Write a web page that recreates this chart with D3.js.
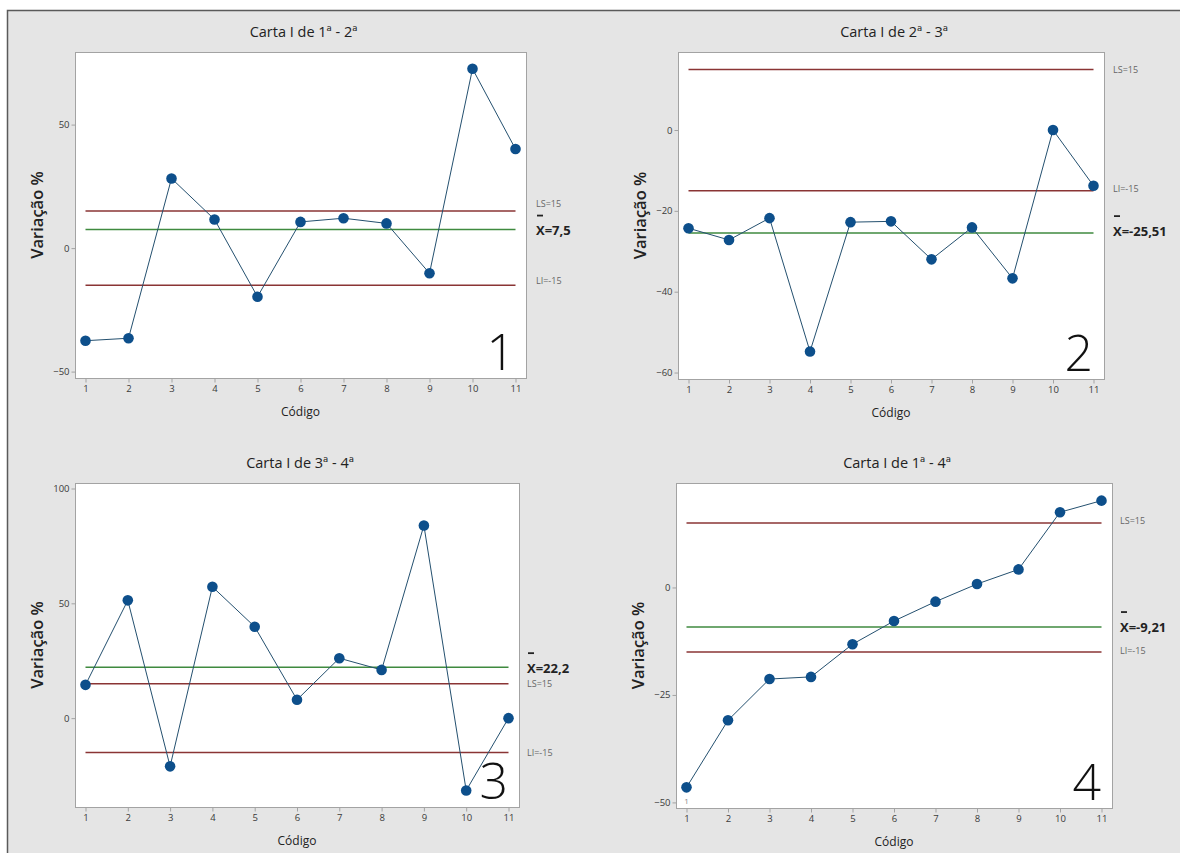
<!DOCTYPE html>
<html>
<head>
<meta charset="utf-8">
<script src="https://cdn.jsdelivr.net/npm/d3@7"></script>
<style>
  html, body { margin: 0; padding: 0; background: #fff; }
  svg { display: block; font-family: "Open Sans", "Noto Sans", sans-serif; }
</style>
</head>
<body>
<div id="chart"></div>
<script>
  var codes = [1, 2, 3, 4, 5, 6, 7, 8, 9, 10, 11];
  var titles = ["Carta I de 1ª - 2ª", "Carta I de 2ª - 3ª", "Carta I de 3ª - 4ª", "Carta I de 1ª - 4ª"];
  var chart1 = [-37.5, -36.5, 28.2, 11.6, -19.7, 10.6, 12.1, 10.0, -10.2, 72.6, 40.1];
  var chart2 = [-24.3, -27.2, -21.8, -54.8, -22.8, -22.6, -32.0, -24.1, -36.7, 0, -13.8];
  var chart3 = [14.5, 51.3, -21.0, 57.2, 39.8, 8.0, 26.1, 21.0, 83.9, -31.5, 0];
  var chart4 = [-46.5, -30.9, -21.3, -20.8, -13.2, -7.8, -3.3, 0.8, 4.2, 17.5, 20.2];
  var means = [7.5, -25.51, 22.2, -9.21];
  var meanLabels = ["X=7,5", "X=-25,51", "X=22,2", "X=-9,21"];
  var upperLimit = 15, lowerLimit = -15;
  var upperLabel = "LS=15", lowerLabel = "LI=-15";
  var yTicks = [[-50, 0, 50], [-60, -40, -20, 0], [0, 50, 100], [-50, -25, 0]];
  var yDomains = [[-52.6, 79.4], [-61.6, 19.3], [-38.7, 102.4], [-51.3, 24.3]];
  var panelNumbers = ["1", "2", "3", "4"];
  var flagged = [[], [], [], [1]];   // points marked by test 1

  var series = [chart1, chart2, chart3, chart4];

  // layout
  const width = 1180;
  const height = 853;
  var boxes = [
    {x0: 75, x1: 526, y0: 52, y1: 378, lx: 536, lsDy: -7, liDy: -4, mDy: 1},
    {x0: 678, x1: 1104, y0: 52, y1: 379, lx: 1113, lsDy: 0, liDy: -2, mDy: -2},
    {x0: 75, x1: 519, y0: 483, y1: 807, lx: 527, lsDy: 0, liDy: 0, mDy: 1},
    {x0: 676, x1: 1112, y0: 483, y1: 808, lx: 1120, lsDy: -2, liDy: -1, mDy: 0}
  ];

  var colors = {
    bg: "#e5e5e5",
    frame: "#5a5a5a",
    box: "#a3a3a3",
    point: "#0d4f8b",
    line: "#24506f",
    limit: "#8a3434",
    mean: "#3f8a3f",
    text: "#222",
    tick: "#3a3a3a"
  };

  var svg = d3.select("#chart")
    .append("svg")
    .attr("width", width)
    .attr("height", height);

  svg.append("rect")
    .attr("x", 7).attr("y", 10)
    .attr("width", width - 7).attr("height", height - 10)
    .attr("fill", colors.bg);
  svg.append("path")
    .attr("d", "M7.5," + height + "V10.5H" + width)
    .attr("fill", "none")
    .attr("stroke", colors.frame)
    .attr("stroke-width", 1.5);

  function drawPanel(i) {
    var b = boxes[i];
    var values = series[i];
    var g = svg.append("g");

    var x = d3.scaleLinear().domain([1, 11]).range([b.x0 + 10.5, b.x1 - 10.5]);
    var y = d3.scaleLinear().domain(yDomains[i]).range([b.y1, b.y0]);

    g.append("rect")
      .attr("x", b.x0 + 0.5).attr("y", b.y0 + 0.5)
      .attr("width", b.x1 - b.x0).attr("height", b.y1 - b.y0)
      .attr("fill", "#fff")
      .attr("stroke", colors.box);

    // axes
    var xAxis = g.append("g")
      .attr("transform", "translate(0," + (b.y1 + 0.5) + ")")
      .call(d3.axisBottom(x).tickValues(codes).tickSize(4).tickSizeOuter(0).tickPadding(3));
    var yAxis = g.append("g")
      .attr("transform", "translate(" + (b.x0 + 0.5) + ",0)")
      .call(d3.axisLeft(y).tickValues(yTicks[i]).tickSize(4).tickSizeOuter(0).tickPadding(2));
    [xAxis, yAxis].forEach(function(a) {
      a.select(".domain").remove();
      a.selectAll("line").attr("stroke", colors.box);
      a.selectAll("text")
        .attr("fill", colors.tick)
        .style("font-family", "'Open Sans', sans-serif")
        .style("font-size", "9.5px");
    });

    // control limits and centre line
    [upperLimit, lowerLimit].forEach(function(v) {
      g.append("line")
        .attr("x1", x(1)).attr("x2", x(11))
        .attr("y1", y(v)).attr("y2", y(v))
        .attr("stroke", colors.limit)
        .attr("stroke-width", 1.5);
    });
    g.append("line")
      .attr("x1", x(1)).attr("x2", x(11))
      .attr("y1", y(means[i])).attr("y2", y(means[i]))
      .attr("stroke", colors.mean)
      .attr("stroke-width", 1.5);

    // series
    var line = d3.line()
      .x(function(d, k) { return x(codes[k]); })
      .y(function(d) { return y(d); });
    g.append("path")
      .datum(values)
      .attr("d", line)
      .attr("fill", "none")
      .attr("stroke", colors.line)
      .attr("stroke-width", 1);
    g.selectAll("circle")
      .data(values)
      .enter().append("circle")
      .attr("cx", function(d, k) { return x(codes[k]); })
      .attr("cy", function(d) { return y(d); })
      .attr("r", 5.3)
      .attr("fill", colors.point);

    flagged[i].forEach(function(c) {
      g.append("text")
        .attr("x", x(c))
        .attr("y", y(values[c - 1]) + 17)
        .attr("text-anchor", "middle")
        .attr("fill", "#888")
        .style("font-size", "8px")
        .text("1");
    });

    // texts
    g.append("text")
      .attr("x", (b.x0 + b.x1) / 2 + 3)
      .attr("y", b.y0 - 15)
      .attr("text-anchor", "middle")
      .attr("fill", colors.text)
      .style("font-size", "14.5px")
      .text(titles[i]);

    g.append("text")
      .attr("x", (b.x0 + b.x1) / 2)
      .attr("y", b.y1 + 38)
      .attr("text-anchor", "middle")
      .attr("fill", colors.text)
      .style("font-size", "12px")
      .text("Código");

    g.append("text")
      .attr("transform", "translate(" + (b.x0 - 32) + "," + ((b.y0 + b.y1) / 2) + ") rotate(-90)")
      .attr("text-anchor", "middle")
      .attr("fill", colors.text)
      .style("font-size", "16.5px")
      .style("font-weight", "600")
      .text("Variação %");

    g.append("text")
      .attr("x", b.x1 - 11)
      .attr("y", b.y1 - 8)
      .attr("text-anchor", "end")
      .attr("fill", "#111")
      .style("font-size", "50px")
      .style("font-weight", "300")
      .text(panelNumbers[i]);

    // right-side labels
    g.append("text")
      .attr("x", b.lx).attr("y", y(upperLimit) + b.lsDy)
      .attr("dy", "0.35em")
      .attr("fill", "#666")
      .style("font-size", "9px")
      .text(upperLabel);
    g.append("text")
      .attr("x", b.lx).attr("y", y(lowerLimit) + b.liDy)
      .attr("dy", "0.35em")
      .attr("fill", "#666")
      .style("font-size", "9px")
      .text(lowerLabel);
    var my = y(means[i]) + b.mDy;
    g.append("line")
      .attr("x1", b.lx + 1).attr("x2", b.lx + 7)
      .attr("y1", my - 15).attr("y2", my - 15)
      .attr("stroke", colors.text)
      .attr("stroke-width", 1.8);
    g.append("text")
      .attr("x", b.lx).attr("y", my)
      .attr("dy", "0.35em")
      .attr("fill", colors.text)
      .style("font-size", "13px")
      .style("font-weight", "700")
      .text(meanLabels[i]);
  }

  for (var i = 0; i < 4; i++) drawPanel(i);
</script>
</body>
</html>
